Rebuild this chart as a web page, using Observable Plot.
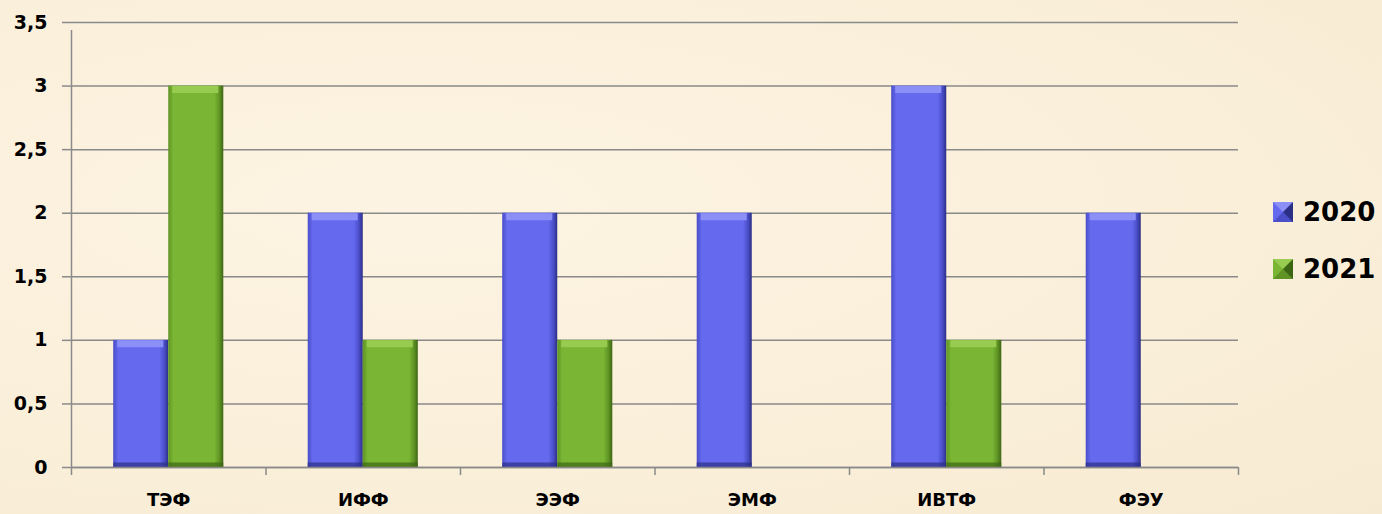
<!DOCTYPE html>
<html>
<head>
<meta charset="utf-8">
<script src="https://cdn.jsdelivr.net/npm/d3@7"></script>
<script src="https://cdn.jsdelivr.net/npm/@observablehq/plot@0.6"></script>
<style>
  html, body { margin: 0; padding: 0; background: #fbf0dc; }
  #wrap { position: relative; width: 1382px; height: 514px; overflow: hidden;
          background: radial-gradient(ellipse at 30% 40%, #fcf3e2 0%, #faefd9 60%, #f7ead2 100%); }
  #legend { position: absolute; left: 1273px; top: 196px; font-family: "DejaVu Sans", sans-serif;
            font-weight: 700; font-size: 26px; color: #000; }
  .item { display: flex; align-items: center; height: 32px; margin-bottom: 25px; }
  .sw { width: 0; height: 0; border-style: solid; border-width: 10px; margin-right: 10px; }
</style>
</head>
<body>
<div id="wrap"><div id="chart"></div><div id="legend"></div></div>
<script>
const categories = ["ТЭФ", "ИФФ", "ЭЭФ", "ЭМФ", "ИВТФ", "ФЭУ"];
const series = ["2020", "2021"];
const values2020 = [1, 2, 2, 2, 3, 2];
const values2021 = [3, 1, 1, 0, 1, 0];
const yTicks = [0, 0.5, 1, 1.5, 2, 2.5, 3, 3.5];

const palette = {
  "2020": {main: "#6469ee", light: "#8c90f6", dark: "#2c2f86", edge: "#4a4ec8"},
  "2021": {main: "#7ab534", light: "#98cc50", dark: "#3d6614", edge: "#5f9424"}
};

const barFrac = 0.283;
const rows = [];
categories.forEach((c, i) => {
  [values2020[i], values2021[i]].forEach((v, s) => {
    if (v > 0) rows.push({cat: c, idx: i, year: series[s], value: v,
      x1: s === 0 ? i + 0.5 - barFrac : i + 0.5,
      x2: s === 0 ? i + 0.5 : i + 0.5 + barFrac});
  });
});
const r2020 = rows.filter(d => d.year === "2020");
const r2021 = rows.filter(d => d.year === "2021");

const gridColor = "#8a8a8a";
const font = "'DejaVu Sans', sans-serif";

const bevel = (data, key) => [
  Plot.rectY(data, {x1: "x1", x2: "x2", y1: 0, y2: "value", fill: `url(#g${key})`}),
  Plot.ruleY(data, {x1: "x1", x2: "x2", y: "value", stroke: palette[key].light, strokeWidth: 7, dy: 3.5, insetLeft: 4, insetRight: 5}),
  Plot.ruleY(data, {x1: "x1", x2: "x2", y: 0, stroke: palette[key].dark, strokeWidth: 5, dy: -2.5, strokeOpacity: 0.7})
];

const chart = Plot.plot({
  width: 1382,
  height: 514,
  marginLeft: 71,
  marginRight: 144,
  marginTop: 22,
  marginBottom: 47,
  style: {background: "transparent", fontFamily: font, color: "#000", overflow: "visible"},
  x: {type: "linear", domain: [0, categories.length]},
  y: {domain: [0, 3.5]},
  marks: [
    Plot.gridY(yTicks, {stroke: gridColor, strokeOpacity: 1, strokeWidth: 1.5}),
    Plot.axisY(yTicks, {tickSize: 9, tickPadding: 15, stroke: gridColor, strokeWidth: 1.5,
      fontSize: 19, fontWeight: "bold", fill: "#000",
      tickFormat: d => String(d).replace(".", ","), label: null}),
    ...bevel(r2020, "2020"),
    ...bevel(r2021, "2021"),
    Plot.ruleY([0], {stroke: gridColor, strokeWidth: 1.5}),
    Plot.ruleX([0], {y1: 0, y2: 3.5, stroke: gridColor, strokeWidth: 1.5, insetBottom: -8}),
    Plot.axisX(d3.range(categories.length + 1), {tickSize: 8, stroke: gridColor, strokeWidth: 1.5,
      tickFormat: () => "", label: null}),
    Plot.axisX(categories.map((c, i) => i + 0.5), {tickSize: 0, tickPadding: 26,
      fontSize: 18, fontWeight: "bold", fill: "#000",
      tickFormat: d => categories[Math.floor(d)], label: null})
  ]
});

const defs = `
<defs>
 ${series.map(k => `
 <linearGradient id="g${k}" x1="0" y1="0" x2="1" y2="0">
   <stop offset="0" stop-color="${palette[k].edge}"/>
   <stop offset="0.09" stop-color="${palette[k].main}"/>
   <stop offset="0.84" stop-color="${palette[k].main}"/>
   <stop offset="0.93" stop-color="${palette[k].edge}"/>
   <stop offset="1" stop-color="${palette[k].dark}"/>
 </linearGradient>`).join("")}
</defs>`;
chart.insertAdjacentHTML("afterbegin", defs);
document.getElementById("chart").appendChild(chart);

const legend = document.getElementById("legend");
series.forEach(k => {
  const it = document.createElement("div");
  it.className = "item";
  const sw = document.createElement("span");
  sw.className = "sw";
  sw.style.borderColor = `${palette[k].light} ${palette[k].dark} ${palette[k].edge} ${palette[k].main}`;
  const t = document.createElement("span");
  t.textContent = k;
  it.appendChild(sw); it.appendChild(t);
  legend.appendChild(it);
});
</script>
</body>
</html>
